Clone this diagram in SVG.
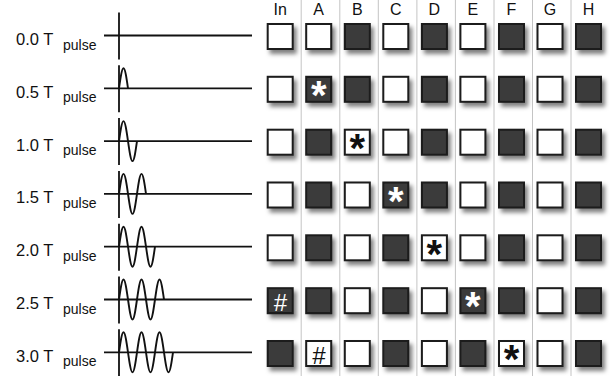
<svg xmlns="http://www.w3.org/2000/svg" width="610" height="376" viewBox="0 0 610 376">
<defs>
<filter id="sh" x="-30%" y="-30%" width="170%" height="170%">
<feDropShadow dx="3" dy="4" stdDeviation="2.2" flood-color="#000" flood-opacity="0.5"/>
</filter>
</defs>
<style>
.lbl{font-family:"Liberation Sans",Arial,sans-serif;font-size:16.5px;fill:#111}
.sub{font-size:14px}
.hdr{font-family:"Liberation Sans",Arial,sans-serif;font-size:16px;fill:#111;text-anchor:middle}
.ax{stroke:#111;stroke-width:1.8;fill:none}
.wv{stroke:#111;stroke-width:1.9;fill:none;stroke-linejoin:round}
.sep{stroke:#c4c4c4;stroke-width:1}
.w{fill:#fff;stroke:#1a1a1a;stroke-width:2;filter:url(#sh)}
.d{fill:#3b3b3b;stroke:#1a1a1a;stroke-width:2;filter:url(#sh)}
.st{font-family:"Liberation Sans",Arial,sans-serif;font-weight:bold;font-size:40px;text-anchor:middle}
.hs{font-family:"Liberation Sans",Arial,sans-serif;font-style:italic;font-size:24px;text-anchor:middle}
.wt{fill:#fff}.bk{fill:#111}
</style>

<g id="separators">
<line class="sep" x1="301.2" y1="0" x2="301.2" y2="376"/>
<line class="sep" x1="339.8" y1="0" x2="339.8" y2="376"/>
<line class="sep" x1="378.3" y1="0" x2="378.3" y2="376"/>
<line class="sep" x1="416.9" y1="0" x2="416.9" y2="376"/>
<line class="sep" x1="455.4" y1="0" x2="455.4" y2="376"/>
<line class="sep" x1="494" y1="0" x2="494" y2="376"/>
<line class="sep" x1="532.5" y1="0" x2="532.5" y2="376"/>
<line class="sep" x1="571" y1="0" x2="571" y2="376"/>
</g>

<g id="headers">
<text class="hdr" x="280.2" y="14.6">In</text>
<text class="hdr" x="318.7" y="14.6">A</text>
<text class="hdr" x="357.3" y="14.6">B</text>
<text class="hdr" x="395.8" y="14.6">C</text>
<text class="hdr" x="434.4" y="14.6">D</text>
<text class="hdr" x="472.9" y="14.6">E</text>
<text class="hdr" x="511.5" y="14.6">F</text>
<text class="hdr" x="550" y="14.6">G</text>
<text class="hdr" x="588.5" y="14.6">H</text>
</g>

<g id="wave0">
<text class="lbl" x="16" y="45">0.0 T<tspan class="sub" x="63" y="49.5">pulse</tspan></text>
<line class="ax" x1="104" y1="35.5" x2="252" y2="35.5"/>
<line class="ax" x1="119" y1="12.5" x2="119" y2="59.5"/>
</g>
<g id="wave1">
<text class="lbl" x="16" y="97.8">0.5 T<tspan class="sub" x="63" y="102.3">pulse</tspan></text>
<line class="ax" x1="104" y1="88.3" x2="252" y2="88.3"/>
<line class="ax" x1="119" y1="65.3" x2="119" y2="112.3"/>
<path class="wv" d="M119,88.3 c1.468,-10.246 2.871,-20 4.5,-20 s3.032,9.754 4.5,20"/>
</g>
<g id="wave2">
<text class="lbl" x="16" y="150.6">1.0 T<tspan class="sub" x="63" y="155.1">pulse</tspan></text>
<line class="ax" x1="104" y1="141.1" x2="252" y2="141.1"/>
<line class="ax" x1="119" y1="118.1" x2="119" y2="165.1"/>
<path class="wv" d="M119,141.1 c1.468,-10.246 2.871,-20 4.5,-20 s3.032,9.754 4.5,20 s2.871,20 4.5,20 s3.032,-9.754 4.5,-20"/>
</g>
<g id="wave3">
<text class="lbl" x="16" y="203.4">1.5 T<tspan class="sub" x="63" y="207.9">pulse</tspan></text>
<line class="ax" x1="104" y1="193.9" x2="252" y2="193.9"/>
<line class="ax" x1="119" y1="170.9" x2="119" y2="217.9"/>
<path class="wv" d="M119,193.9 c1.468,-10.246 2.871,-20 4.5,-20 s3.032,9.754 4.5,20 s2.871,20 4.5,20 s3.032,-9.754 4.5,-20 s2.871,-20 4.5,-20 s3.032,9.754 4.5,20"/>
</g>
<g id="wave4">
<text class="lbl" x="16" y="256.2">2.0 T<tspan class="sub" x="63" y="260.7">pulse</tspan></text>
<line class="ax" x1="104" y1="246.7" x2="252" y2="246.7"/>
<line class="ax" x1="119" y1="223.7" x2="119" y2="270.7"/>
<path class="wv" d="M119,246.7 c1.468,-10.246 2.871,-20 4.5,-20 s3.032,9.754 4.5,20 s2.871,20 4.5,20 s3.032,-9.754 4.5,-20 s2.871,-20 4.5,-20 s3.032,9.754 4.5,20 s2.871,20 4.5,20 s3.032,-9.754 4.5,-20"/>
</g>
<g id="wave5">
<text class="lbl" x="16" y="309">2.5 T<tspan class="sub" x="63" y="313.5">pulse</tspan></text>
<line class="ax" x1="104" y1="299.5" x2="252" y2="299.5"/>
<line class="ax" x1="119" y1="276.5" x2="119" y2="323.5"/>
<path class="wv" d="M119,299.5 c1.468,-10.246 2.871,-20 4.5,-20 s3.032,9.754 4.5,20 s2.871,20 4.5,20 s3.032,-9.754 4.5,-20 s2.871,-20 4.5,-20 s3.032,9.754 4.5,20 s2.871,20 4.5,20 s3.032,-9.754 4.5,-20 s2.871,-20 4.5,-20 s3.032,9.754 4.5,20"/>
</g>
<g id="wave6">
<text class="lbl" x="16" y="361.8">3.0 T<tspan class="sub" x="63" y="366.3">pulse</tspan></text>
<line class="ax" x1="104" y1="352.3" x2="252" y2="352.3"/>
<line class="ax" x1="119" y1="329.3" x2="119" y2="376"/>
<path class="wv" d="M119,352.3 c1.468,-10.246 2.871,-20 4.5,-20 s3.032,9.754 4.5,20 s2.871,20 4.5,20 s3.032,-9.754 4.5,-20 s2.871,-20 4.5,-20 s3.032,9.754 4.5,20 s2.871,20 4.5,20 s3.032,-9.754 4.5,-20 s2.871,-20 4.5,-20 s3.032,9.754 4.5,20 s2.871,20 4.5,20 s3.032,-9.754 4.5,-20"/>
</g>

<g id="row0">
<rect class="w" x="267.7" y="24" width="25" height="25"/>
<rect class="w" x="306.2" y="24" width="25" height="25"/>
<rect class="d" x="344.8" y="24" width="25" height="25"/>
<rect class="w" x="383.3" y="24" width="25" height="25"/>
<rect class="d" x="421.9" y="24" width="25" height="25"/>
<rect class="w" x="460.4" y="24" width="25" height="25"/>
<rect class="d" x="499" y="24" width="25" height="25"/>
<rect class="w" x="537.5" y="24" width="25" height="25"/>
<rect class="d" x="576" y="24" width="25" height="25"/>
</g>
<g id="row1">
<rect class="w" x="267.7" y="76.8" width="25" height="25"/>
<rect class="d" x="306.2" y="76.8" width="25" height="25"/>
<rect class="d" x="344.8" y="76.8" width="25" height="25"/>
<rect class="w" x="383.3" y="76.8" width="25" height="25"/>
<rect class="d" x="421.9" y="76.8" width="25" height="25"/>
<rect class="w" x="460.4" y="76.8" width="25" height="25"/>
<rect class="d" x="499" y="76.8" width="25" height="25"/>
<rect class="w" x="537.5" y="76.8" width="25" height="25"/>
<rect class="d" x="576" y="76.8" width="25" height="25"/>
<text class="st wt" x="318.7" y="109">*</text>
</g>
<g id="row2">
<rect class="w" x="267.7" y="129.7" width="25" height="25"/>
<rect class="d" x="306.2" y="129.7" width="25" height="25"/>
<rect class="w" x="344.8" y="129.7" width="25" height="25"/>
<rect class="w" x="383.3" y="129.7" width="25" height="25"/>
<rect class="d" x="421.9" y="129.7" width="25" height="25"/>
<rect class="w" x="460.4" y="129.7" width="25" height="25"/>
<rect class="d" x="499" y="129.7" width="25" height="25"/>
<rect class="w" x="537.5" y="129.7" width="25" height="25"/>
<rect class="d" x="576" y="129.7" width="25" height="25"/>
<text class="st bk" x="357.3" y="161.9">*</text>
</g>
<g id="row3">
<rect class="w" x="267.7" y="182.5" width="25" height="25"/>
<rect class="d" x="306.2" y="182.5" width="25" height="25"/>
<rect class="w" x="344.8" y="182.5" width="25" height="25"/>
<rect class="d" x="383.3" y="182.5" width="25" height="25"/>
<rect class="d" x="421.9" y="182.5" width="25" height="25"/>
<rect class="w" x="460.4" y="182.5" width="25" height="25"/>
<rect class="d" x="499" y="182.5" width="25" height="25"/>
<rect class="w" x="537.5" y="182.5" width="25" height="25"/>
<rect class="d" x="576" y="182.5" width="25" height="25"/>
<text class="st wt" x="395.8" y="214.7">*</text>
</g>
<g id="row4">
<rect class="w" x="267.7" y="235.3" width="25" height="25"/>
<rect class="d" x="306.2" y="235.3" width="25" height="25"/>
<rect class="w" x="344.8" y="235.3" width="25" height="25"/>
<rect class="d" x="383.3" y="235.3" width="25" height="25"/>
<rect class="w" x="421.9" y="235.3" width="25" height="25"/>
<rect class="w" x="460.4" y="235.3" width="25" height="25"/>
<rect class="d" x="499" y="235.3" width="25" height="25"/>
<rect class="w" x="537.5" y="235.3" width="25" height="25"/>
<rect class="d" x="576" y="235.3" width="25" height="25"/>
<text class="st bk" x="434.4" y="267.5">*</text>
</g>
<g id="row5">
<rect class="d" x="267.7" y="288.2" width="25" height="25"/>
<rect class="d" x="306.2" y="288.2" width="25" height="25"/>
<rect class="w" x="344.8" y="288.2" width="25" height="25"/>
<rect class="d" x="383.3" y="288.2" width="25" height="25"/>
<rect class="w" x="421.9" y="288.2" width="25" height="25"/>
<rect class="d" x="460.4" y="288.2" width="25" height="25"/>
<rect class="d" x="499" y="288.2" width="25" height="25"/>
<rect class="w" x="537.5" y="288.2" width="25" height="25"/>
<rect class="d" x="576" y="288.2" width="25" height="25"/>
<text class="hs wt" x="280.2" y="310.7">#</text>
<text class="st wt" x="472.9" y="320.4">*</text>
</g>
<g id="row6">
<rect class="d" x="267.7" y="341" width="25" height="25"/>
<rect class="w" x="306.2" y="341" width="25" height="25"/>
<rect class="w" x="344.8" y="341" width="25" height="25"/>
<rect class="d" x="383.3" y="341" width="25" height="25"/>
<rect class="w" x="421.9" y="341" width="25" height="25"/>
<rect class="d" x="460.4" y="341" width="25" height="25"/>
<rect class="w" x="499" y="341" width="25" height="25"/>
<rect class="w" x="537.5" y="341" width="25" height="25"/>
<rect class="d" x="576" y="341" width="25" height="25"/>
<text class="hs bk" x="318.7" y="363.5">#</text>
<text class="st bk" x="511.5" y="373.2">*</text>
</g>
</svg>
